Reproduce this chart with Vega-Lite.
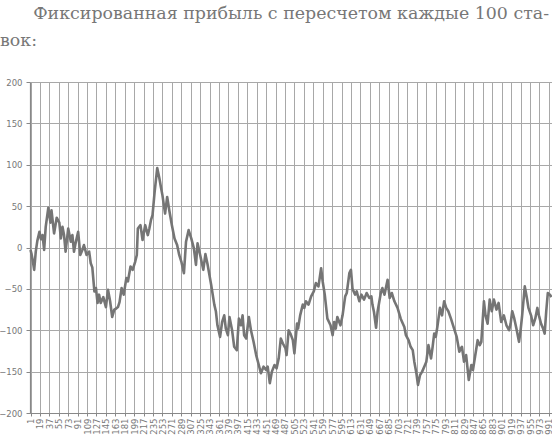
{
  "$schema": "https://vega.github.io/schema/vega-lite/v6.json",
  "width": 522,
  "height": 331,
  "autosize": {"type": "none"},
  "padding": {"left": 30, "top": 82, "right": 0, "bottom": 23},
  "background": "white",
  "title": {
    "text": ["\u200b\u00a0\u00a0\u00a0\u00a0\u00a0\u00a0Фиксированная прибыль с пересчетом каждые 100 ста-", "вок:"],
    "anchor": "start",
    "frame": "group",
    "dx": -30,
    "offset": 29,
    "font": "DejaVu Serif",
    "fontSize": 17.4,
    "fontWeight": "normal",
    "color": "#777777",
    "lineHeight": 27
  },
  "data": {
    "values": [
      {"n":1,"v":-3},{"n":3,"v":-8},{"n":5,"v":-15},{"n":8,"v":-27},{"n":11,"v":-5},{"n":14,"v":8},{"n":18,"v":19},{"n":21,"v":10},{"n":24,"v":15},{"n":27,"v":-3},{"n":30,"v":25},{"n":35,"v":48},{"n":39,"v":30},{"n":41,"v":45},{"n":46,"v":17},{"n":51,"v":36},{"n":56,"v":30},{"n":59,"v":11},{"n":62,"v":25},{"n":65,"v":15},{"n":68,"v":-5},{"n":73,"v":23},{"n":78,"v":7},{"n":81,"v":15},{"n":84,"v":-5},{"n":87,"v":5},{"n":92,"v":19},{"n":96,"v":-9},{"n":100,"v":-3},{"n":103,"v":3},{"n":108,"v":-9},{"n":113,"v":-5},{"n":116,"v":-19},{"n":119,"v":-24},{"n":123,"v":-53},{"n":126,"v":-49},{"n":129,"v":-67},{"n":132,"v":-57},{"n":135,"v":-67},{"n":140,"v":-60},{"n":145,"v":-72},{"n":149,"v":-51},{"n":153,"v":-65},{"n":157,"v":-84},{"n":161,"v":-75},{"n":164,"v":-74},{"n":168,"v":-72},{"n":171,"v":-66},{"n":175,"v":-49},{"n":179,"v":-57},{"n":184,"v":-37},{"n":187,"v":-41},{"n":192,"v":-23},{"n":196,"v":-27},{"n":201,"v":-17},{"n":204,"v":-9},{"n":206,"v":23},{"n":211,"v":27},{"n":215,"v":9},{"n":220,"v":27},{"n":225,"v":15},{"n":228,"v":23},{"n":231,"v":33},{"n":234,"v":39},{"n":238,"v":67},{"n":243,"v":96},{"n":247,"v":84},{"n":250,"v":73},{"n":253,"v":63},{"n":258,"v":41},{"n":262,"v":61},{"n":266,"v":45},{"n":271,"v":27},{"n":276,"v":11},{"n":281,"v":3},{"n":285,"v":-9},{"n":289,"v":-17},{"n":294,"v":-31},{"n":298,"v":7},{"n":303,"v":21},{"n":308,"v":11},{"n":313,"v":-1},{"n":317,"v":-21},{"n":320,"v":5},{"n":325,"v":-9},{"n":331,"v":-27},{"n":335,"v":-8},{"n":339,"v":-20},{"n":346,"v":-45},{"n":352,"v":-69},{"n":355,"v":-77},{"n":358,"v":-94},{"n":363,"v":-108},{"n":367,"v":-90},{"n":371,"v":-82},{"n":374,"v":-98},{"n":378,"v":-106},{"n":381,"v":-84},{"n":386,"v":-100},{"n":390,"v":-120},{"n":395,"v":-124},{"n":399,"v":-86},{"n":403,"v":-94},{"n":406,"v":-82},{"n":409,"v":-106},{"n":413,"v":-110},{"n":418,"v":-84},{"n":422,"v":-100},{"n":427,"v":-114},{"n":432,"v":-130},{"n":437,"v":-142},{"n":441,"v":-152},{"n":446,"v":-144},{"n":451,"v":-148},{"n":454,"v":-144},{"n":458,"v":-164},{"n":462,"v":-150},{"n":467,"v":-142},{"n":471,"v":-146},{"n":475,"v":-134},{"n":479,"v":-110},{"n":483,"v":-116},{"n":488,"v":-122},{"n":490,"v":-130},{"n":494,"v":-100},{"n":498,"v":-105},{"n":502,"v":-112},{"n":505,"v":-128},{"n":510,"v":-92},{"n":512,"v":-98},{"n":516,"v":-82},{"n":521,"v":-69},{"n":524,"v":-73},{"n":527,"v":-65},{"n":532,"v":-69},{"n":537,"v":-59},{"n":542,"v":-53},{"n":546,"v":-43},{"n":551,"v":-47},{"n":556,"v":-25},{"n":559,"v":-41},{"n":563,"v":-57},{"n":568,"v":-86},{"n":574,"v":-94},{"n":578,"v":-106},{"n":581,"v":-90},{"n":584,"v":-98},{"n":587,"v":-84},{"n":593,"v":-94},{"n":597,"v":-82},{"n":602,"v":-59},{"n":605,"v":-55},{"n":610,"v":-31},{"n":613,"v":-27},{"n":616,"v":-50},{"n":621,"v":-57},{"n":624,"v":-53},{"n":629,"v":-65},{"n":633,"v":-57},{"n":638,"v":-63},{"n":643,"v":-55},{"n":648,"v":-61},{"n":652,"v":-59},{"n":654,"v":-69},{"n":657,"v":-78},{"n":661,"v":-97},{"n":664,"v":-77},{"n":670,"v":-55},{"n":673,"v":-49},{"n":677,"v":-57},{"n":683,"v":-39},{"n":687,"v":-61},{"n":691,"v":-55},{"n":696,"v":-65},{"n":702,"v":-73},{"n":708,"v":-86},{"n":715,"v":-96},{"n":718,"v":-106},{"n":723,"v":-112},{"n":727,"v":-120},{"n":731,"v":-124},{"n":734,"v":-138},{"n":738,"v":-152},{"n":741,"v":-166},{"n":745,"v":-154},{"n":749,"v":-150},{"n":753,"v":-144},{"n":757,"v":-138},{"n":761,"v":-118},{"n":766,"v":-134},{"n":769,"v":-120},{"n":772,"v":-104},{"n":775,"v":-108},{"n":778,"v":-96},{"n":783,"v":-73},{"n":787,"v":-82},{"n":791,"v":-65},{"n":795,"v":-73},{"n":799,"v":-77},{"n":804,"v":-86},{"n":810,"v":-98},{"n":815,"v":-108},{"n":820,"v":-126},{"n":823,"v":-122},{"n":825,"v":-120},{"n":829,"v":-138},{"n":833,"v":-130},{"n":838,"v":-160},{"n":843,"v":-142},{"n":846,"v":-148},{"n":850,"v":-132},{"n":855,"v":-112},{"n":859,"v":-118},{"n":862,"v":-114},{"n":867,"v":-65},{"n":870,"v":-82},{"n":874,"v":-92},{"n":878,"v":-63},{"n":882,"v":-77},{"n":886,"v":-63},{"n":891,"v":-75},{"n":895,"v":-67},{"n":900,"v":-90},{"n":905,"v":-82},{"n":910,"v":-94},{"n":915,"v":-100},{"n":918,"v":-92},{"n":921,"v":-77},{"n":925,"v":-86},{"n":929,"v":-98},{"n":934,"v":-114},{"n":937,"v":-100},{"n":940,"v":-82},{"n":945,"v":-47},{"n":949,"v":-61},{"n":952,"v":-73},{"n":957,"v":-82},{"n":961,"v":-94},{"n":965,"v":-86},{"n":969,"v":-73},{"n":972,"v":-82},{"n":976,"v":-92},{"n":980,"v":-98},{"n":983,"v":-104},{"n":986,"v":-77},{"n":989,"v":-55},{"n":993,"v":-57},{"n":996,"v":-60}
    ]
  },
  "mark": {"type": "line", "color": "#757575", "strokeWidth": 2.6, "strokeJoin": "round"},
  "encoding": {
    "x": {
      "field": "n",
      "type": "quantitative",
      "scale": {"domain": [0, 997], "nice": false, "zero": false},
      "axis": {
        "title": null,
        "values": [1,19,37,55,73,91,109,127,145,163,181,199,217,235,253,271,289,307,325,343,361,379,397,415,433,451,469,487,505,523,541,559,577,595,613,631,649,667,685,703,721,739,757,775,793,811,829,847,865,883,901,919,937,955,973,991],
        "labelAngle": 270,
        "labelFont": "DejaVu Sans",
        "labelFontSize": 8.5,
        "labelColor": "#777777",
        "labelPadding": 2,
        "labelOverlap": false,
        "labelFlush": false,
        "tickSize": 3,
        "tickColor": "#888888",
        "domainColor": "#888888",
        "domainWidth": 1.2,
        "grid": true,
        "gridColor": "#a8a8a8",
        "gridWidth": 1
      }
    },
    "y": {
      "field": "v",
      "type": "quantitative",
      "scale": {"domain": [-200, 200], "nice": false},
      "axis": {
        "title": null,
        "values": [-200,-150,-100,-50,0,50,100,150,200],
        "labelFont": "DejaVu Sans",
        "labelFontSize": 8.5,
        "labelColor": "#777777",
        "labelPadding": 4,
        "tickSize": 4,
        "tickColor": "#888888",
        "domainColor": "#888888",
        "domainWidth": 1.2,
        "grid": true,
        "gridColor": "#a8a8a8",
        "gridWidth": 1
      }
    }
  },
  "config": {"view": {"stroke": null}}
}
